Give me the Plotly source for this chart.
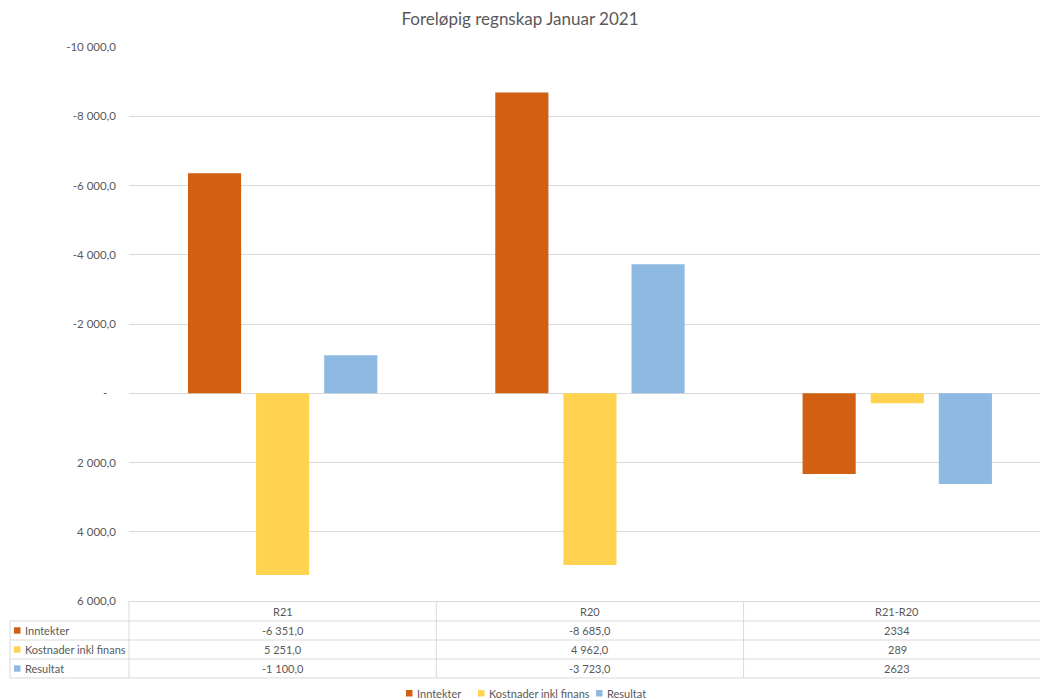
import plotly.graph_objects as go

# ---------------- data ----------------
title = "Foreløpig regnskap Januar 2021"
categories = ["R21", "R20", "R21-R20"]
series_names = ["Inntekter", "Kostnader inkl finans", "Resultat"]
inntekter = [-6351.0, -8685.0, 2334]
kostnader = [5251.0, 4962.0, 289]
resultat = [-1100.0, -3723.0, 2623]
series_values = [inntekter, kostnader, resultat]
decimal_columns = [True, True, False]  # R21-R20 column shown without decimals
tick_vals = [-10000, -8000, -6000, -4000, -2000, 0, 2000, 4000, 6000]
tick_text = ["-10 000,0", "-8 000,0", "-6 000,0", "-4 000,0", "-2 000,0",
             "-\u00a0\u00a0\u00a0", "2 000,0", "4 000,0", "6 000,0"]

# ---------------- style ----------------
colors = ["#D26012", "#FFD34F", "#8DB9E2"]
TXT = "#595959"
GRID = "#D9D9D9"
FONT = "Lato, 'Open Sans', sans-serif"
W, H = 1040, 700
ML, MR, MT, MB = 129, 0, 47, 99
PW, PH = W - ML - MR, H - MT - MB
CAT_W = 307.3
x_range = [-0.5, -0.5 + PW / CAT_W]


def fmt(v, dec):
    if dec:
        s = f"{abs(v):,.1f}".replace(",", " ").replace(".", ",")
    else:
        s = f"{abs(v):,.0f}".replace(",", "")
    return ("-" if v < 0 else "") + s


def pxx(px):
    return (px - ML) / PW


def pxy(py):
    return (H - MB - py) / PH


def datax_to_paper(xv):
    return (xv - x_range[0]) / (x_range[1] - x_range[0])


fig = go.Figure()
for name, vals, col in zip(series_names, series_values, colors):
    fig.add_trace(go.Bar(x=categories, y=vals, name=name, marker_color=col,
                         marker_line_width=0, showlegend=False))

shapes = []
annotations = []
line = dict(color=GRID, width=1)
tfont = dict(size=11, color=TXT, family=FONT)

# table horizontal lines
shapes.append(dict(type="line", xref="paper", yref="paper", x0=pxx(128.5), x1=1.0,
                   y0=pxy(601.5), y1=pxy(601.5), line=line))
for ry in [621, 640, 659, 678]:
    shapes.append(dict(type="line", xref="paper", yref="paper", x0=pxx(10), x1=1.0,
                       y0=pxy(ry), y1=pxy(ry), line=line))
# vertical lines
shapes.append(dict(type="line", xref="paper", yref="paper", x0=pxx(10), x1=pxx(10),
                   y0=pxy(621), y1=pxy(678), line=line))
for i in range(len(categories)):
    xb = datax_to_paper(i - 0.5)
    shapes.append(dict(type="line", xref="paper", yref="paper", x0=xb, x1=xb,
                       y0=pxy(601.5), y1=pxy(678), line=line))

# header row: category names
for i, c in enumerate(categories):
    annotations.append(dict(x=i, xref="x", y=pxy(611), yref="paper", text=c,
                            xanchor="center", yanchor="middle",
                            showarrow=False, font=tfont))

row_y = [630.5, 649.5, 668.5]
for r, (name, vals, col) in enumerate(zip(series_names, series_values, colors)):
    yy = pxy(row_y[r])
    shapes.append(dict(type="rect", xref="paper", yref="paper", x0=pxx(14), x1=pxx(20.5),
                       y0=pxy(row_y[r] + 3.2), y1=pxy(row_y[r] - 3.2),
                       fillcolor=col, line=dict(width=0)))
    annotations.append(dict(x=pxx(23), xref="paper", y=yy, yref="paper", text=name,
                            xanchor="left", yanchor="middle", showarrow=False, font=tfont))
    for i, v in enumerate(vals):
        annotations.append(dict(x=i, xref="x", y=yy, yref="paper",
                                text=fmt(v, decimal_columns[i]), showarrow=False,
                                xanchor="center", yanchor="middle", font=tfont))

# bottom legend
leg_x = [406, 478, 596]
for name, col, lx in zip(series_names, colors, leg_x):
    shapes.append(dict(type="rect", xref="paper", yref="paper", x0=pxx(lx), x1=pxx(lx + 6.5),
                       y0=pxy(696.5), y1=pxy(690), fillcolor=col, line=dict(width=0)))
    annotations.append(dict(x=pxx(lx + 9), xref="paper", y=pxy(693), yref="paper",
                            text=name, xanchor="left", yanchor="middle", showarrow=False,
                            font=tfont))

fig.update_layout(
    width=W, height=H,
    margin=dict(l=ML, r=MR, t=MT, b=MB),
    paper_bgcolor="white", plot_bgcolor="white",
    title=dict(text=title, x=520 / W, xref="container", xanchor="center",
               y=1 - 19 / H, yanchor="middle",
               font=dict(size=17, color=TXT, family=FONT)),
    barmode="group", bargap=0.335, bargroupgap=0.22,
    xaxis=dict(range=x_range, showticklabels=False, showgrid=False, zeroline=False,
               showline=False, ticks=""),
    yaxis=dict(range=[6000, -10000], tickvals=tick_vals, ticktext=tick_text,
               showgrid=True, gridcolor=GRID, gridwidth=1, zeroline=False,
               showline=False, ticks="", ticklabelstandoff=12,
               tickfont=dict(size=11.5, color=TXT, family=FONT)),
    shapes=shapes, annotations=annotations,
    showlegend=False,
)

fig.write_html(
    "out.html",
    config={"displayModeBar": False},
    post_script="document.body.style.margin='0';document.body.style.overflow='hidden';",
)
